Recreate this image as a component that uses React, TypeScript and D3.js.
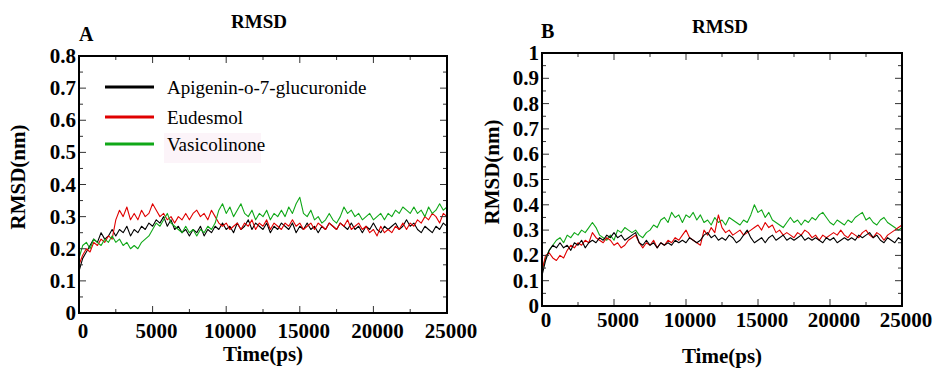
import React, { useRef, useEffect } from "react";
import { select, scaleLinear, line, range } from "d3";

// time axis: one value every 250 ps, 0..25000
const timePs = range(0, 25001, 250);

const seriesNames = ["Apigenin-o-7-glucuronide", "Eudesmol", "Vasicolinone"];
const seriesColors = ["#000000", "#e00000", "#10a818"];

const xTicks = [0, 5000, 10000, 15000, 20000, 25000];
const yTicksA = [0, 0.1, 0.2, 0.3, 0.4, 0.5, 0.6, 0.7, 0.8];
const yTicksB = [0, 0.1, 0.2, 0.3, 0.4, 0.5, 0.6, 0.7, 0.8, 0.9, 1];

// panel A values (nm)
const apigeninA = [
  0.13, 0.17, 0.19, 0.21, 0.23, 0.22, 0.25, 0.23, 0.24, 0.26,
  0.24, 0.26, 0.25, 0.27, 0.24, 0.26, 0.25, 0.27, 0.26, 0.28,
  0.27, 0.29, 0.28, 0.30, 0.27, 0.29, 0.26, 0.27, 0.25, 0.26,
  0.24, 0.26, 0.25, 0.27, 0.24, 0.26, 0.25, 0.27, 0.26, 0.28,
  0.26, 0.27, 0.25, 0.28, 0.26, 0.27, 0.29, 0.26, 0.28, 0.27,
  0.26, 0.28, 0.25, 0.27, 0.26, 0.28, 0.27, 0.26, 0.28, 0.25,
  0.27, 0.26, 0.28, 0.26, 0.27, 0.25, 0.27, 0.26, 0.28, 0.27,
  0.26, 0.28, 0.27, 0.26, 0.28, 0.26, 0.27, 0.25, 0.27, 0.26,
  0.28, 0.26, 0.25, 0.27, 0.26, 0.27, 0.28, 0.26, 0.27, 0.29,
  0.27, 0.28, 0.26, 0.25, 0.27, 0.26, 0.25, 0.27, 0.26, 0.28, 0.27
];
const eudesmolA = [
  0.15, 0.18, 0.20, 0.19, 0.22, 0.21, 0.23, 0.22, 0.24, 0.23,
  0.29, 0.32, 0.30, 0.33, 0.29, 0.31, 0.29, 0.32, 0.30, 0.31,
  0.34, 0.32, 0.30, 0.31, 0.29, 0.30, 0.28, 0.30, 0.29, 0.31,
  0.29, 0.31, 0.32, 0.30, 0.31, 0.29, 0.32, 0.30, 0.28, 0.27,
  0.28, 0.26, 0.27, 0.28, 0.26, 0.28, 0.27, 0.29, 0.26, 0.28,
  0.27, 0.29, 0.26, 0.28, 0.27, 0.26, 0.28, 0.27, 0.29, 0.27,
  0.28, 0.26, 0.27, 0.28, 0.26, 0.28, 0.27, 0.26, 0.28, 0.27,
  0.26, 0.28, 0.27, 0.29, 0.26, 0.27, 0.28, 0.26, 0.27, 0.25,
  0.26, 0.24, 0.27, 0.25, 0.26, 0.25, 0.27, 0.26, 0.28, 0.26,
  0.28, 0.27, 0.29, 0.28, 0.30, 0.29, 0.31, 0.30, 0.28, 0.31, 0.30
];
const vasicolinoneA = [
  0.17, 0.21, 0.22, 0.20, 0.23, 0.22, 0.21, 0.23, 0.22, 0.24,
  0.22, 0.23, 0.21, 0.22, 0.20, 0.21, 0.20, 0.22, 0.23, 0.24,
  0.26, 0.28, 0.27, 0.29, 0.31, 0.28, 0.27, 0.26, 0.25, 0.27,
  0.25, 0.26, 0.24, 0.26, 0.25, 0.27, 0.26, 0.28, 0.32, 0.34,
  0.31, 0.33, 0.30, 0.32, 0.34, 0.31, 0.30, 0.32, 0.29, 0.31,
  0.30, 0.32, 0.29, 0.31, 0.30, 0.32, 0.30, 0.33, 0.31, 0.34,
  0.36, 0.31, 0.30, 0.32, 0.29, 0.30, 0.28, 0.29, 0.31, 0.29,
  0.28, 0.30, 0.33, 0.31, 0.32, 0.30, 0.31, 0.29, 0.30, 0.31,
  0.29, 0.30, 0.31, 0.29, 0.31, 0.30, 0.32, 0.31, 0.33, 0.32,
  0.31, 0.33, 0.31, 0.32, 0.30, 0.33, 0.31, 0.32, 0.34, 0.32, 0.33
];

// panel B values (nm)
const apigeninB = [
  0.12, 0.18, 0.22, 0.24, 0.23, 0.25, 0.23, 0.24, 0.22, 0.25,
  0.24, 0.26, 0.23, 0.25, 0.26, 0.25, 0.27, 0.26, 0.28, 0.27,
  0.29, 0.27, 0.28, 0.26, 0.27, 0.28, 0.29, 0.25, 0.24, 0.26,
  0.24, 0.25, 0.23, 0.25, 0.24, 0.25, 0.24, 0.26, 0.25, 0.26,
  0.25, 0.27, 0.26, 0.25, 0.26, 0.28, 0.29, 0.27, 0.28, 0.26,
  0.27, 0.26, 0.28, 0.27, 0.25, 0.26, 0.28, 0.30, 0.27, 0.25,
  0.26, 0.27, 0.25, 0.27, 0.28, 0.26, 0.27, 0.28, 0.26, 0.27,
  0.26, 0.27, 0.28, 0.26, 0.27, 0.26, 0.27, 0.26, 0.25, 0.27,
  0.26, 0.27, 0.25, 0.26, 0.27, 0.26, 0.27, 0.26, 0.28, 0.27,
  0.28, 0.29, 0.27, 0.28, 0.26, 0.25, 0.27, 0.26, 0.25, 0.27, 0.26
];
const eudesmolB = [
  0.14, 0.20, 0.21, 0.19, 0.18, 0.20, 0.19, 0.22, 0.24, 0.23,
  0.25, 0.24, 0.26, 0.25, 0.29, 0.27, 0.26, 0.25, 0.27, 0.26,
  0.24, 0.25, 0.23, 0.24, 0.26, 0.27, 0.28, 0.25, 0.23, 0.25,
  0.24, 0.26, 0.23, 0.25, 0.24, 0.26, 0.25, 0.27, 0.26, 0.28,
  0.30, 0.27, 0.26, 0.25, 0.24, 0.30, 0.28, 0.31, 0.29, 0.36,
  0.31, 0.29, 0.30, 0.28, 0.29, 0.30, 0.28, 0.29, 0.30, 0.31,
  0.32, 0.30, 0.33, 0.31, 0.32, 0.29, 0.30, 0.28, 0.29, 0.28,
  0.27, 0.29, 0.28, 0.30, 0.29, 0.27, 0.28, 0.26, 0.28, 0.27,
  0.28, 0.29, 0.28, 0.30, 0.28, 0.27, 0.29, 0.28, 0.27, 0.29,
  0.30, 0.28, 0.27, 0.29, 0.28, 0.26, 0.28, 0.29, 0.30, 0.31, 0.32
];
const vasicolinoneB = [
  0.14, 0.19, 0.22, 0.24, 0.26, 0.27, 0.25, 0.28, 0.27, 0.29,
  0.28, 0.30, 0.29, 0.31, 0.33, 0.31, 0.28, 0.27, 0.26, 0.28,
  0.26, 0.30, 0.29, 0.31, 0.30, 0.29, 0.30, 0.28, 0.27, 0.29,
  0.30, 0.32, 0.31, 0.34, 0.35, 0.33, 0.37, 0.35, 0.36, 0.33,
  0.36, 0.35, 0.37, 0.34, 0.36, 0.33, 0.34, 0.32, 0.35, 0.33,
  0.34, 0.32, 0.35, 0.34, 0.33, 0.32, 0.34, 0.33, 0.36, 0.40,
  0.37, 0.38, 0.35, 0.37, 0.34, 0.33, 0.32, 0.31, 0.33, 0.35,
  0.33, 0.34, 0.32, 0.34, 0.33, 0.35, 0.34, 0.36, 0.37, 0.35,
  0.33, 0.32, 0.34, 0.33, 0.32, 0.34, 0.33, 0.35, 0.36, 0.37,
  0.34, 0.35, 0.33, 0.32, 0.34, 0.35, 0.33, 0.32, 0.31, 0.30, 0.31
];

const serif =
  '"Liberation Serif", Tinos, "Nimbus Roman", "Nimbus Roman No9 L", Times, "DejaVu Serif", "Noto Serif", serif';

const fmtY = (v) => (v === 0 ? "0" : v === 1 ? "1" : v.toFixed(1));

function txt(g, size, bold) {
  return g.append("text")
    .style("font-family", serif)
    .style("font-size", size + "px")
    .style("font-weight", bold ? "bold" : "normal");
}

function drawPanel(svg, p) {
  const x = scaleLinear().domain([0, 25000]).range([p.x0, p.x1]);
  const y = scaleLinear().domain([0, p.yMax]).range([p.y1, p.y0]);
  const g = svg.append("g");

  // data lines
  const ln = line()
    .x((d) => x(d[0]))
    .y((d) => y(d[1]));
  p.order.forEach((i) => {
    g.append("path")
      .attr("d", ln(timePs.map((t, k) => [t, p.series[i][k]])))
      .attr("fill", "none")
      .attr("stroke", seriesColors[i])
      .attr("stroke-width", 1.1)
      .attr("stroke-linejoin", "round");
  });

  // ticks, inward on all four sides
  const ticks = g.append("g").attr("stroke", "#333").attr("stroke-width", 1);
  range(0, 25001, 2500).forEach((t) => {
    const len = t % 5000 === 0 ? 7 : 4;
    ticks.append("line").attr("x1", x(t)).attr("x2", x(t)).attr("y1", p.y1).attr("y2", p.y1 - len);
    ticks.append("line").attr("x1", x(t)).attr("x2", x(t)).attr("y1", p.y0).attr("y2", p.y0 + len);
  });
  const nMinor = Math.round(p.yMax / 0.05);
  for (let k = 0; k <= nMinor; k++) {
    const v = k * 0.05;
    const len = k % 2 === 0 ? 7 : 4;
    ticks.append("line").attr("x1", p.x0).attr("x2", p.x0 + len).attr("y1", y(v)).attr("y2", y(v));
    ticks.append("line").attr("x1", p.x1).attr("x2", p.x1 - len).attr("y1", y(v)).attr("y2", y(v));
  }

  g.append("rect")
    .attr("x", p.x0).attr("y", p.y0)
    .attr("width", p.x1 - p.x0).attr("height", p.y1 - p.y0)
    .attr("fill", "none").attr("stroke", "#000").attr("stroke-width", 2);

  // tick labels
  p.yTicks.forEach((v) => {
    txt(g, 21, true)
      .attr("x", p.x0 - 3).attr("y", y(v) + 7)
      .attr("text-anchor", "end")
      .text(fmtY(v));
  });
  xTicks.forEach((t) => {
    txt(g, 21, true)
      .attr("x", x(t) + 4).attr("y", p.xLabelY)
      .attr("text-anchor", "middle")
      .text(t);
  });

  // titles
  txt(g, 19, true)
    .attr("x", p.titleX).attr("y", p.titleY)
    .attr("text-anchor", "middle")
    .text("RMSD");
  txt(g, 20, true)
    .attr("x", p.letterX).attr("y", p.letterY)
    .text(p.letter);
  txt(g, 21, true)
    .attr("x", (p.x0 + p.x1) / 2).attr("y", p.xTitleY)
    .attr("text-anchor", "middle")
    .text("Time(ps)");
  txt(g, 21, true)
    .attr("transform", "translate(" + p.yTitleX + "," + p.yTitleY + ") rotate(-90)")
    .attr("text-anchor", "middle")
    .text("RMSD(nm)");

  return { x, y };
}

const App = () => {
  const svgRef = useRef(null);

  useEffect(() => {
    const svg = select(svgRef.current);
    svg.selectAll("*").remove();

    drawPanel(svg, {
      x0: 79, x1: 447, y0: 56, y1: 313, yMax: 0.8, yTicks: yTicksA,
      series: [apigeninA, eudesmolA, vasicolinoneA], order: [0, 1, 2],
      xLabelY: 338, xTitleY: 361, titleX: 259, titleY: 28,
      letter: "A", letterX: 79, letterY: 41, yTitleX: 25, yTitleY: 177
    });
    drawPanel(svg, {
      x0: 542, x1: 902, y0: 53, y1: 306, yMax: 1.0, yTicks: yTicksB,
      series: [apigeninB, eudesmolB, vasicolinoneB], order: [2, 1, 0],
      xLabelY: 327, xTitleY: 363, titleX: 720, titleY: 33,
      letter: "B", letterX: 541, letterY: 38, yTitleX: 499, yTitleY: 172
    });

    // legend in panel A
    const leg = svg.append("g");
    leg.append("rect")
      .attr("x", 164).attr("y", 133).attr("width", 97).attr("height", 30)
      .attr("fill", "#fcf4f9");
    const rowY = [87, 117, 144];
    seriesNames.forEach((name, i) => {
      leg.append("line")
        .attr("x1", 105).attr("x2", 154).attr("y1", rowY[i]).attr("y2", rowY[i])
        .attr("stroke", seriesColors[i]).attr("stroke-width", 3);
      txt(leg, 19, false)
        .attr("x", 167).attr("y", rowY[i] + 7)
        .text(name);
    });
  }, []);

  return (
    <div className="rmsd-figure">
      <svg
        ref={svgRef}
        width={938}
        height={369}
        style={{ position: "absolute", left: 0, top: 0, background: "#fff" }}
      ></svg>
    </div>
  );
};

export default App;
